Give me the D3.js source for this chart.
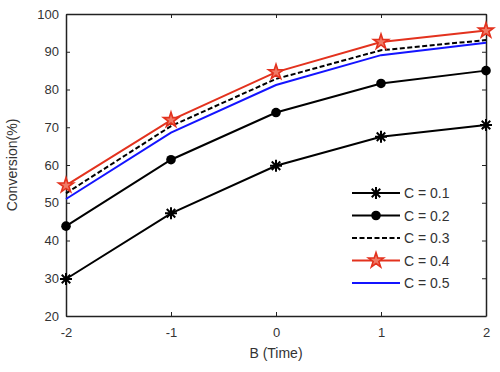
<!DOCTYPE html>
<html><head><meta charset="utf-8">
<script src="https://cdn.jsdelivr.net/npm/d3@7"></script>
<style>body{margin:0;background:#fff}svg{display:block}text{font-family:"Liberation Sans",Arial,sans-serif}</style>
</head><body>
<script>
const xValues = [-2, -1, 0, 1, 2];
const seriesNames = ["C = 0.1", "C = 0.2", "C = 0.3", "C = 0.4", "C = 0.5"];
const c01 = [29.8, 47.2, 59.8, 67.5, 70.6];
const c02 = [43.8, 61.4, 73.9, 81.6, 85.0];
const c03 = [52.5, 70.3, 82.8, 90.4, 93.1];
const c04 = [54.6, 71.9, 84.6, 92.6, 95.6];
const c05 = [51.0, 68.6, 81.2, 89.1, 92.4];
const yTicks = [20, 30, 40, 50, 60, 70, 80, 90, 100];
const xTicks = [-2, -1, 0, 1, 2];

const W = 500, H = 372;
const L = 66, R = 486, T = 14, B = 316;
const svg = d3.select("body").append("svg").attr("width", W).attr("height", H);
const x = d3.scaleLinear().domain([-2, 2]).range([L, R]);
const y = d3.scaleLinear().domain([20, 100]).range([B, T]);
const txtCol = "#333";

const styles = [
  {data: c01, color: "#000", dash: null, marker: "asterisk"},
  {data: c02, color: "#000", dash: null, marker: "circle"},
  {data: c03, color: "#000", dash: "5,2.5", marker: null},
  {data: c04, color: "#e3321e", dash: null, marker: "star"},
  {data: c05, color: "#1414ff", dash: null, marker: null}
];

// axes
const axB = svg.append("g").attr("transform", `translate(0,${B})`)
  .call(d3.axisBottom(x).tickValues(xTicks).tickSizeInner(-4).tickSizeOuter(0).tickPadding(12).tickFormat(d => String(d)));
const axT = svg.append("g").attr("transform", `translate(0,${T})`)
  .call(d3.axisTop(x).tickValues(xTicks).tickSizeInner(-4).tickSizeOuter(0).tickFormat(""));
const axL = svg.append("g").attr("transform", `translate(${L},0)`)
  .call(d3.axisLeft(y).tickValues(yTicks).tickSizeInner(-4).tickSizeOuter(0).tickPadding(7));
const axR = svg.append("g").attr("transform", `translate(${R},0)`)
  .call(d3.axisRight(y).tickValues(yTicks).tickSizeInner(-4).tickSizeOuter(0).tickFormat(""));
[axB, axT, axL, axR].forEach(g => {
  g.selectAll(".domain").attr("stroke", "#222").attr("stroke-width", 1.5);
  g.selectAll(".tick line").attr("stroke", "#222").attr("stroke-width", 1);
  g.selectAll(".tick text").attr("fill", txtCol).style("font-size", "13px").style("font-family", '"Liberation Sans",Arial,sans-serif');
});

// lines
const line = d3.line().x((d, i) => x(xValues[i])).y(d => y(d));
const starPath = d3.symbol().type(d3.symbolStar).size(70)();
const astPath = (function(){ // 8-armed asterisk
  const r = 6; let p = "";
  for (let k = 0; k < 4; k++) { const a = k * Math.PI / 4; p += `M${-r*Math.cos(a)},${-r*Math.sin(a)}L${r*Math.cos(a)},${r*Math.sin(a)}`; }
  return p;
})();
function drawMarker(g, type, color, cx, cy) {
  if (type === "asterisk") g.append("path").attr("d", astPath).attr("transform", `translate(${cx},${cy})`).attr("stroke", color).attr("stroke-width", 2).attr("fill", "none");
  else if (type === "circle") g.append("circle").attr("cx", cx).attr("cy", cy).attr("r", 4.8).attr("fill", color);
  else if (type === "star") g.append("path").attr("d", starPath).attr("transform", `translate(${cx},${cy})`).attr("stroke", color).attr("stroke-width", 1.6).attr("fill", "#f07a66");
}
const order = [0, 1, 4, 2, 3];
order.forEach(i => {
  const s = styles[i];
  const g = svg.append("g");
  g.append("path").attr("d", line(s.data)).attr("fill", "none").attr("stroke", s.color)
    .attr("stroke-width", 2).attr("stroke-dasharray", s.dash);
  if (s.marker) s.data.forEach((v, j) => drawMarker(g, s.marker, s.color, x(xValues[j]), y(v)));
});

// legend
const lg = svg.append("g");
styles.forEach((s, i) => {
  const ly = 193 + i * 22.5;
  lg.append("line").attr("x1", 352).attr("x2", 400).attr("y1", ly).attr("y2", ly)
    .attr("stroke", s.color).attr("stroke-width", 2).attr("stroke-dasharray", s.dash);
  if (s.marker) drawMarker(lg, s.marker, s.color, 376, ly);
  lg.append("text").attr("x", 404).attr("y", ly + 5).attr("fill", txtCol).style("font-size", "14px").text(seriesNames[i]);
});

// axis titles
svg.append("text").attr("x", 276).attr("y", 358).attr("text-anchor", "middle").attr("fill", txtCol).style("font-size", "14px").text("B (Time)");
svg.append("text").attr("transform", "translate(17,165) rotate(-90)").attr("text-anchor", "middle").attr("fill", txtCol).style("font-size", "14px").text("Conversion(%)");
</script>
</body></html>
